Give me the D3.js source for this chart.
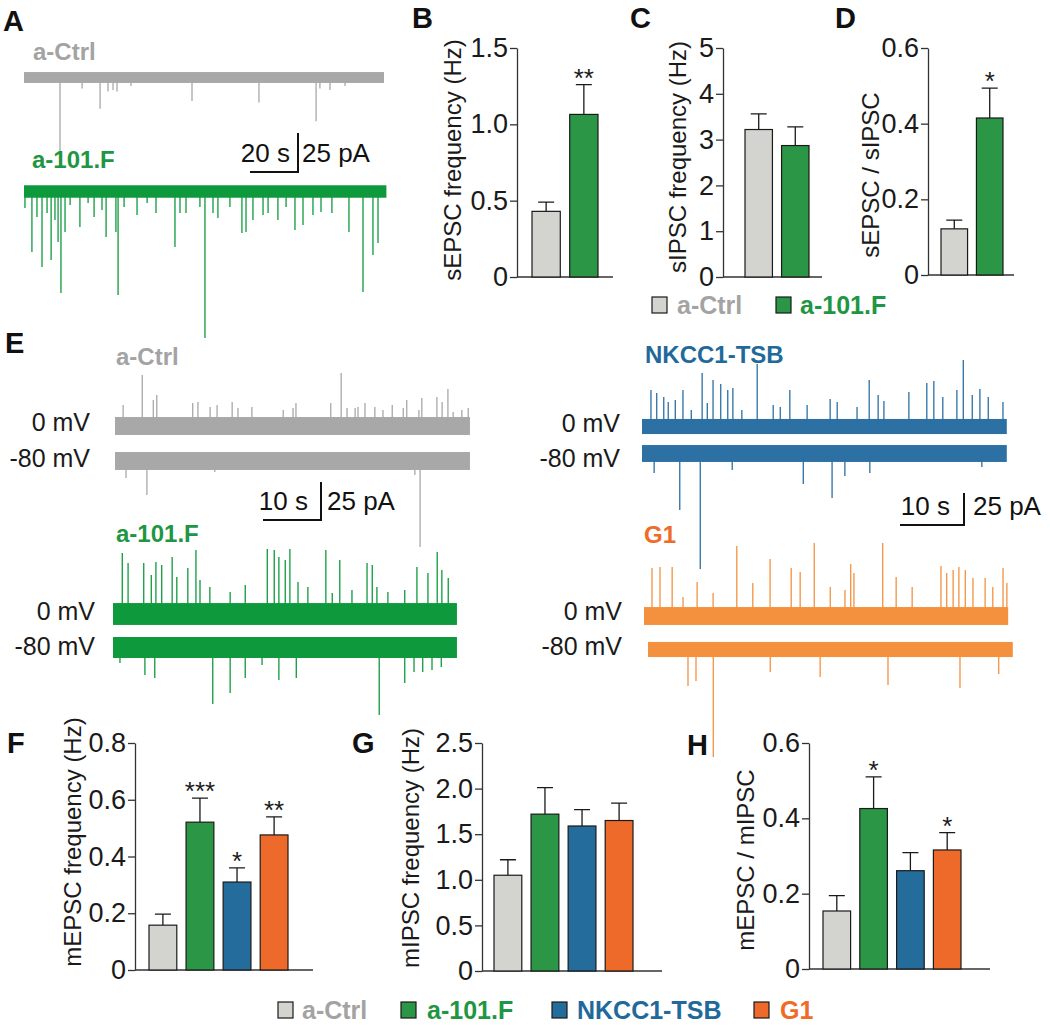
<!DOCTYPE html>
<html>
<head>
<meta charset="utf-8">
<script src="https://cdn.jsdelivr.net/npm/d3@7"></script>
<style>
  body { margin: 0; background: #fff; }
  svg { display: block; font-family: "Liberation Sans", Arial, Helvetica, sans-serif; }
</style>
</head>
<body>
<div id="fig"></div>
<script>
// ---------- data ----------
var groupsTop = ["a-Ctrl", "a-101.F"];
var groupsAll = ["a-Ctrl", "a-101.F", "NKCC1-TSB", "G1"];

// B-D: spontaneous currents (mean, SEM, significance)
var sepscMean = [0.43, 1.065], sepscSem = [0.06, 0.195], sepscSig = ["", "**"];
var sipscMean = [3.22, 2.87],  sipscSem = [0.34, 0.41],  sipscSig = ["", ""];
var sRatioMean = [0.122, 0.415], sRatioSem = [0.023, 0.079], sRatioSig = ["", "*"];

// F-H: miniature currents
var mepscMean = [0.158, 0.521, 0.31, 0.476], mepscSem = [0.039, 0.085, 0.05, 0.064], mepscSig = ["", "***", "*", "**"];
var mipscMean = [1.05, 1.72, 1.59, 1.65], mipscSem = [0.17, 0.29, 0.18, 0.19], mipscSig = ["", "", "", ""];
var mRatioMean = [0.154, 0.426, 0.261, 0.316], mRatioSem = [0.041, 0.084, 0.048, 0.046], mRatioSig = ["", "*", "", "*"];

// tick values
var ticksB = [0, 0.5, 1.0, 1.5];
var ticksC = [0, 1, 2, 3, 4, 5];
var ticksD = [0, 0.2, 0.4, 0.6];
var ticksF = [0, 0.2, 0.4, 0.6, 0.8];
var ticksG = [0, 0.5, 1.0, 1.5, 2.0, 2.5];
var ticksH = [0, 0.2, 0.4, 0.6];

// traces: events as [time (s), amplitude (pA)]; duration (s); baseline noise (pA)
var traceA_ctrl = [[15,-48],[24.2,-7],[31.7,-20],[35,-9],[37.1,-8],[38.75,-9],[44.6,-5.5],[70,-15],
  [97.9,-16],[121.7,-28],[123.3,-7],[127.5,-8],[133.75,-5.5]];
var traceA_101 = [[0.4,-10.6],[3.3,-38.8],[5.4,-16.3],[7.5,-48.4],[9.6,-13.8],[11.3,-43.9],[12.9,-18.3],
  [14.2,-32.4],[15.4,-65.1],[17.1,-26],[19.2,-8.7],[23.3,-22.8],[26.7,-7.4],[29.2,-16.3],[32.5,-11.9],
  [34.2,-29.2],[38.3,-26],[39.2,-66.3],[41.7,-9.9],[47.1,-15.1],[51.3,-7.4],[55,-13.8],[62.9,-35.6],
  [65,-13.8],[67.5,-13.8],[73.3,-9.9],[75.4,-93.9],[78.75,-13.8],[80.8,-17],[85.8,-9.9],[90.8,-26.6],
  [92.5,-26],[95.4,-18.3],[99.6,-15.1],[101.7,-13.8],[105.8,-18.3],[109.2,-9.9],[112.9,-24.7],
  [116.25,-21.5],[120.4,-15.1],[123.75,-13.1],[128.3,-13.8],[135.4,-26],[141.25,-64.4],[145.4,-40.7],[147.5,-33]];
var durA = [150, 151], noiseA = [3.5, 4];

var traceE_ctrl0 = [[1.4,13.8],[4.7,33.6],[6.6,17.1],[7.2,20.4],[13.4,15.1],[14.3,15.8],[16.4,12.5],[17.6,13.8],
  [20.2,15.8],[21.2,11.8],[23.6,12.5],[29,10.5],[30.7,11.8],[31.2,15.1],[37.2,15.1],[39,34.9],[40,11.8],
  [41.4,11.8],[41.9,12.5],[43.1,15.1],[44.8,12.5],[46.2,10.5],[47.8,13.8],[49.7,11.8],[50.3,17.1],[52.4,10.5],
  [52.9,18.4],[55.5,19.1],[56.4,15.8],[57.4,24.3],[58.3,9.2],[59.8,10.5],[60.9,11.8]];
var traceE_ctrl80 = [[1.9,-11.2],[5.5,-22.4],[17.2,-7.2],[51.7,-9.2],[52.6,-56.6]];
var traceE_101_0 = [[1.6,40.1],[2.6,33.6],[5.3,33.6],[6.6,25.7],[7.4,34.2],[8.4,32.2],[10.2,37.5],[11,24.3],
  [12.9,30.3],[14.3,42.1],[15,22.4],[16.7,17.8],[20.2,14.5],[22.8,19.1],[26.6,42.8],[27.8,42.1],[28.6,37.5],
  [29.7,35.5],[30.5,42.8],[31.9,21.1],[33.6,17.8],[36.7,42.1],[37.8,13.8],[39.1,35.5],[41.2,15.8],[43.8,33.6],
  [44.7,32.2],[45.5,17.8],[47.4,14.5],[50.3,15.8],[52.4,30.9],[54.3,27],[55.9,40.8],[56.7,28.9],[57.8,23.7]];
var traceE_101_80 = [[1.2,-10.2],[5.5,-18.1],[7.2,-20.1],[17.2,-37.2],[20.2,-29.9],[22.8,-20.1],[25.7,-11.5],
  [28.6,-21.4],[31.6,-20.1],[45.9,-44.4],[50.3,-23.4],[51.9,-16.1],[53.4,-16.1],[55,-14.8],[56.6,-12.8]];
var traceE_tsb0 = [[1.4,28.5],[2.3,26.2],[3.4,23],[4.1,19.1],[5.2,20.7],[6.4,28.5],[7.7,12.9],[9.4,41.8],
  [10.2,18.4],[11.1,36.3],[12.3,33.2],[13.4,28.5],[14.2,30.1],[15.6,12.9],[18,48.8],[20.5,16.8],[21.6,15.2],
  [23.1,28.5],[25.8,16.8],[29.4,21.5],[30.5,19.1],[33.6,15.2],[35.5,36.3],[36.9,24.6],[37.8,19.9],[41.7,27],
  [44.5,34],[45.6,35.5],[47,23],[49.2,28.5],[50.2,52],[51.6,24.6],[52.8,29.3],[54.1,23],[56.4,19.1]];
var traceE_tsb80 = [[1.9,-15.2],[5.9,-44.1],[9.1,-90.2],[14.1,-12.9],[25.2,-23.8],[29.7,-34.8],[31.7,-17.6],
  [35.6,-15.2],[53.1,-10.5]];
var traceE_g1_0 = [[1.25,37.5],[2.5,38.3],[4.4,38.3],[6.1,14.8],[8.3,26.6],[10.8,18],[14.5,54.7],[17,25.8],
  [19.7,44.5],[23,37.5],[24.4,34.4],[26.6,57],[29.1,22.7],[31.4,20.3],[32.3,40.6],[32.8,33.6],[37.3,57],
  [39.4,30.5],[41.9,22.7],[46.4,39.1],[47.3,33.6],[48.3,35.9],[49.2,38.3],[50.2,35.9],[51.4,29.7],[53.3,29.7],
  [54.5,22.7],[56.1,37.5],[56.7,25.8]];
var traceE_g1_80 = [[6.25,-28.5],[7.5,-24.6],[10.2,-84],[19.1,-17.6],[26.9,-21.5],[37.5,-27.7],[48.75,-30.1],[54.8,-19.1]];
var durE = [61.2, 61.2, 59.3, 59.3, 57, 57, 56.9, 57];
var noiseE = [5.9, 5.9, 7.2, 6.9, 5.9, 6.6, 7, 5.9];

// ---------- styling ----------
var barFill = {"a-Ctrl": "#d3d3cf", "a-101.F": "#2a9646", "NKCC1-TSB": "#246c9c", "G1": "#ee6a2a"};
var textCol = {"a-Ctrl": "#a3a3a3", "a-101.F": "#1f9643", "NKCC1-TSB": "#22699b", "G1": "#ef6b28"};
var traceCol = {"a-Ctrl": "#a8a8a8", "a-101.F": "#0e9a3c", "NKCC1-TSB": "#2c70a4", "G1": "#f4913f"};

var svg = d3.select("#fig").append("svg").attr("width", 1050).attr("height", 1025);

function txt(x, y, s, size, opts) {
  opts = opts || {};
  return svg.append("text").attr("x", x).attr("y", y).text(s)
    .attr("font-size", size + "px")
    .attr("font-weight", opts.bold ? "bold" : "normal")
    .attr("fill", opts.fill || "#1a1a1a")
    .attr("text-anchor", opts.anchor || "start");
}

// panel letters
[["A",3,31],["B",412,28],["C",630,28],["D",835,28],["E",5,353],["F",7,753],["G",352,753],["H",687,755]]
  .forEach(function(d) { txt(d[1], d[2], d[0], 29, {bold: true, fill: "#111"}); });

function barPanel(c) {
  var y = d3.scaleLinear().domain([0, c.max]).range([c.y0, c.y1]);
  var x = d3.scaleBand().domain(c.groups).range([c.b0, c.b1]).paddingInner(0.25);
  var g = svg.append("g");

  var ax = g.append("g").attr("transform", "translate(" + c.ax + ",0)")
    .call(d3.axisLeft(y).tickValues(c.ticks).tickSize(7).tickSizeOuter(0).tickPadding(2)
      .tickFormat(c.fmt));
  ax.select(".domain").attr("stroke", "#333").attr("stroke-width", 1.3);
  ax.selectAll(".tick line").attr("stroke", "#333").attr("stroke-width", 1.3);
  ax.selectAll(".tick text").attr("font-size", "27px").attr("fill", "#1a1a1a")
    .attr("font-family", "'Liberation Sans', Arial, sans-serif");

  g.append("line").attr("x1", c.ax).attr("x2", c.axEnd).attr("y1", c.y0).attr("y2", c.y0)
    .attr("stroke", "#333").attr("stroke-width", 1.3);

  var rows = c.groups.map(function(k, i) { return {k: k, m: c.mean[i], s: c.sem[i], sig: c.sig[i]}; });

  // error bars (upper only)
  g.selectAll(".err").data(rows).enter().append("path")
    .attr("d", function(d) {
      var cx = x(d.k) + x.bandwidth() / 2, top = y(d.m + d.s);
      return "M" + cx + "," + y(d.m) + "V" + top + "M" + (cx - 8) + "," + top + "H" + (cx + 8);
    })
    .attr("fill", "none").attr("stroke", "#1a1a1a").attr("stroke-width", 1.3);

  g.selectAll(".bar").data(rows).enter().append("rect")
    .attr("x", function(d) { return x(d.k); })
    .attr("y", function(d) { return y(d.m); })
    .attr("width", x.bandwidth())
    .attr("height", function(d) { return c.y0 - y(d.m); })
    .attr("fill", function(d) { return barFill[d.k]; })
    .attr("stroke", "#1a1a1a").attr("stroke-width", 1.2);

  g.selectAll(".sig").data(rows).enter().append("text")
    .attr("x", function(d) { return x(d.k) + x.bandwidth() / 2; })
    .attr("y", function(d) { return y(d.m + d.s) + 2; })
    .attr("text-anchor", "middle").attr("font-size", "26px").attr("fill", "#1a1a1a")
    .text(function(d) { return d.sig; });

  g.append("text").attr("transform", "translate(" + c.lx + "," + c.ly + ") rotate(-90)")
    .attr("text-anchor", "middle").attr("dominant-baseline", "central")
    .attr("font-size", "24px").attr("fill", "#1a1a1a").text(c.label);
}

var f1 = function(d) { return d === 0 ? "0" : d3.format(".1f")(d); };
var fInt = function(d) { return d3.format("d")(d); };

barPanel({groups: groupsTop, mean: sepscMean, sem: sepscSem, sig: sepscSig, max: 1.5, ticks: ticksB, fmt: f1,
  ax: 517, axEnd: 613, b0: 532, b1: 598, y0: 277, y1: 48, label: "sEPSC frequency (Hz)", lx: 452, ly: 160});
barPanel({groups: groupsTop, mean: sipscMean, sem: sipscSem, sig: sipscSig, max: 5, ticks: ticksC, fmt: fInt,
  ax: 723, axEnd: 822, b0: 745, b1: 809, y0: 277, y1: 48, label: "sIPSC frequency (Hz)", lx: 677, ly: 157});
barPanel({groups: groupsTop, mean: sRatioMean, sem: sRatioSem, sig: sRatioSig, max: 0.6, ticks: ticksD, fmt: f1,
  ax: 928, axEnd: 1014, b0: 941, b1: 1003, y0: 275, y1: 48, label: "sEPSC / sIPSC", lx: 870, ly: 175});
barPanel({groups: groupsAll, mean: mepscMean, sem: mepscSem, sig: mepscSig, max: 0.8, ticks: ticksF, fmt: f1,
  ax: 135, axEnd: 313, b0: 149, b1: 288, y0: 970, y1: 743, label: "mEPSC frequency (Hz)", lx: 72, ly: 842});
barPanel({groups: groupsAll, mean: mipscMean, sem: mipscSem, sig: mipscSig, max: 2.5, ticks: ticksG, fmt: f1,
  ax: 482, axEnd: 662, b0: 494, b1: 633, y0: 971, y1: 743, label: "mIPSC frequency (Hz)", lx: 410, ly: 848});
barPanel({groups: groupsAll, mean: mRatioMean, sem: mRatioSem, sig: mRatioSig, max: 0.6, ticks: ticksH, fmt: f1,
  ax: 809, axEnd: 990, b0: 823, b1: 961, y0: 969, y1: 743, label: "mEPSC / mIPSC", lx: 745, ly: 860});

// legends
function legend(items, xs, y) {
  items.forEach(function(k, i) {
    svg.append("rect").attr("x", xs[i][0]).attr("y", y - 8).attr("width", 15).attr("height", 16)
      .attr("fill", barFill[k]).attr("stroke", "#1a1a1a").attr("stroke-width", 1.2);
    txt(xs[i][1], y + 9, k, 25, {bold: true, fill: textCol[k]});
  });
}
legend(groupsTop, [[652, 677], [776, 800]], 305);
legend(groupsAll, [[278, 302], [401, 427], [552, 577], [754, 780]], 1010);

// ---------- traces ----------
function drawTrace(data, dur, noise, color, x0, yc, xs, as) {
  var g = svg.append("g");
  g.append("rect").attr("x", x0).attr("width", xs(dur))
    .attr("y", yc - as(noise)).attr("height", 2 * as(noise)).attr("fill", color);
  g.selectAll("line").data(data).enter().append("line")
    .attr("x1", function(d) { return x0 + xs(d[0]); })
    .attr("x2", function(d) { return x0 + xs(d[0]); })
    .attr("y1", yc)
    .attr("y2", function(d) { return yc - as(d[1]); })
    .attr("stroke", color).attr("stroke-width", 1.3);
}

function scaleBar(xs, as, sec, pA, vx, by, secLbl, paLbl, gapL, gapR) {
  svg.append("path")
    .attr("d", "M" + (vx - xs(sec)) + "," + by + "H" + vx + "V" + (by - as(pA)))
    .attr("fill", "none").attr("stroke", "#111").attr("stroke-width", 2);
  txt(vx - gapL, by - 10, secLbl, 26, {anchor: "end", fill: "#111"});
  txt(vx + gapR, by - 10, paLbl, 26, {fill: "#111"});
}

// A
var xsA = d3.scaleLinear().domain([0, 20]).range([0, 48]);
var asA = d3.scaleLinear().domain([0, 25]).range([0, 39]);
txt(33, 60, "a-Ctrl", 24, {bold: true, fill: textCol["a-Ctrl"]});
drawTrace(traceA_ctrl, durA[0], noiseA[0], traceCol["a-Ctrl"], 24, 77.5, xsA, asA);
txt(32, 168, "a-101.F", 24, {bold: true, fill: textCol["a-101.F"]});
drawTrace(traceA_101, durA[1], noiseA[1], traceCol["a-101.F"], 24, 191.5, xsA, asA);
scaleBar(xsA, asA, 20, 25, 298, 172, "20 s", "25 pA", 8, 4);

// E left
var xsL = d3.scaleLinear().domain([0, 10]).range([0, 58]);
var asL = d3.scaleLinear().domain([0, 25]).range([0, 38]);
txt(116, 365, "a-Ctrl", 24, {bold: true, fill: textCol["a-Ctrl"]});
txt(90, 431, "0 mV", 25, {anchor: "end"});
txt(90, 467, "-80 mV", 25, {anchor: "end"});
drawTrace(traceE_ctrl0, durE[0], noiseE[0], traceCol["a-Ctrl"], 115, 426, xsL, asL);
drawTrace(traceE_ctrl80, durE[1], noiseE[1], traceCol["a-Ctrl"], 115, 461, xsL, asL);
txt(116, 542, "a-101.F", 24, {bold: true, fill: textCol["a-101.F"]});
txt(95, 620, "0 mV", 25, {anchor: "end"});
txt(95, 655, "-80 mV", 25, {anchor: "end"});
drawTrace(traceE_101_0, durE[2], noiseE[2], traceCol["a-101.F"], 113, 614, xsL, asL);
drawTrace(traceE_101_80, durE[3], noiseE[3], traceCol["a-101.F"], 113, 647.5, xsL, asL);
scaleBar(xsL, asL, 10, 25, 321, 520, "10 s", "25 pA", 13, 6);

// E right
var xsR = d3.scaleLinear().domain([0, 10]).range([0, 64]);
var asR = d3.scaleLinear().domain([0, 25]).range([0, 32]);
txt(645, 363, "NKCC1-TSB", 24, {bold: true, fill: textCol["NKCC1-TSB"]});
txt(620, 432, "0 mV", 25, {anchor: "end"});
txt(620, 467, "-80 mV", 25, {anchor: "end"});
drawTrace(traceE_tsb0, durE[4], noiseE[4], traceCol["NKCC1-TSB"], 642, 426.5, xsR, asR);
drawTrace(traceE_tsb80, durE[5], noiseE[5], traceCol["NKCC1-TSB"], 642, 453.5, xsR, asR);
txt(644, 543, "G1", 24, {bold: true, fill: textCol["G1"]});
txt(622, 620, "0 mV", 25, {anchor: "end"});
txt(622, 655, "-80 mV", 25, {anchor: "end"});
drawTrace(traceE_g1_0, durE[6], noiseE[6], traceCol["G1"], 644, 616, xsR, asR);
drawTrace(traceE_g1_80, durE[7], noiseE[7], traceCol["G1"], 648, 649.5, xsR, asR);
scaleBar(xsR, asR, 10, 25, 964, 525, "10 s", "25 pA", 14, 9);
</script>
</body>
</html>
